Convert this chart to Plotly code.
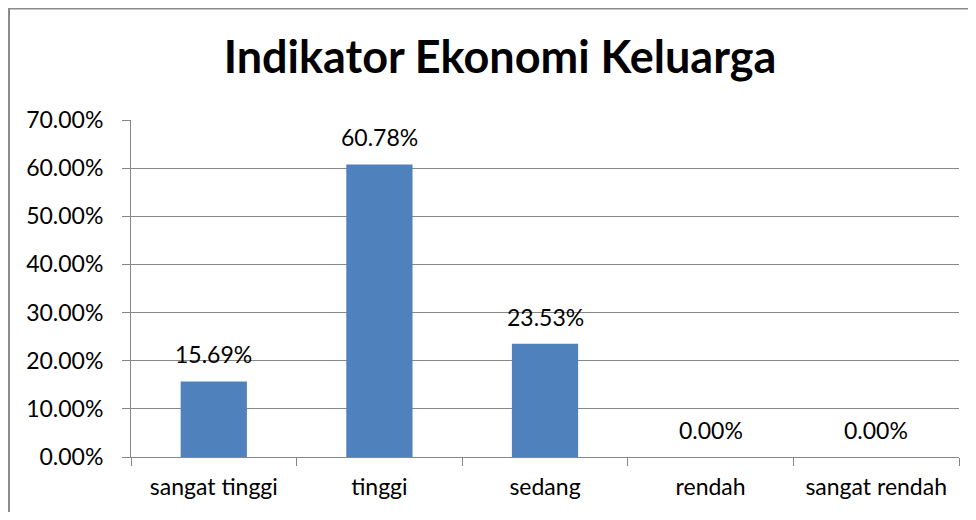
import plotly.graph_objects as go

categories = ["sangat tinggi", "tinggi", "sedang", "rendah", "sangat rendah"]
values = [0.1569, 0.6078, 0.2353, 0.0, 0.0]
y_ticks = [0, 0.1, 0.2, 0.3, 0.4, 0.5, 0.6, 0.7]
title_text = "Indikator Ekonomi Keluarga"

# page body has an 8px margin, so the figure sits at (8, 8) in the window
W, H = 960, 504
ML, MR, MT, MB = 123, 9, 112, 55
FONT = "Lato"
FS = 23
GRID = "#878787"
BAR = "#4F81BD"

fig = go.Figure()
fig.add_trace(go.Bar(
    x=categories, y=values,
    marker=dict(color=BAR, line=dict(width=0)),
    hoverinfo="skip",
))

for c, v in zip(categories, values):
    fig.add_annotation(
        x=c, y=v, xref="x", yref="y",
        text=f"{v*100:.2f}%", showarrow=False,
        yanchor="bottom", yshift=11,
        font=dict(family=FONT, size=FS, color="#000000"),
    )

pw = W - ML - MR
ph = H - MT - MB
fig.add_shape(
    type="rect", xref="paper", yref="paper",
    x0=(1 - ML) / pw, x1=(W + 20 - ML) / pw,
    y0=-(H + 20 - MT - ph) / ph, y1=1 + (MT - 0.5) / ph,
    line=dict(color="#8c8c8c", width=2), fillcolor="rgba(0,0,0,0)",
    layer="below",
)

fig.update_layout(
    width=W, height=H,
    margin=dict(l=ML, r=MR, t=MT, b=MB, pad=0),
    paper_bgcolor="white", plot_bgcolor="white",
    bargap=0.6,
    showlegend=False,
    title=dict(
        text=f"<b>{title_text}</b>", x=492 / W, xref="container", xanchor="center",
        y=1 - 49 / H, yref="container", yanchor="middle",
        font=dict(family=FONT, size=45, color="#000000"),
    ),
    font=dict(family=FONT, size=FS, color="#000000"),
)
fig.update_xaxes(
    showline=True, linecolor=GRID, linewidth=1,
    ticks="outside", ticklen=8, tickcolor=GRID, tickwidth=1,
    tickson="boundaries", showgrid=False,
    ticklabelstandoff=9,
    tickfont=dict(family=FONT, size=FS, color="#000000"),
    fixedrange=True,
)
fig.update_yaxes(
    range=[0, 0.7], tickvals=y_ticks, tickformat=".2%",
    showline=True, linecolor=GRID, linewidth=1,
    ticks="outside", ticklen=8, tickcolor=GRID, tickwidth=1,
    showgrid=True, gridcolor=GRID, gridwidth=1,
    zeroline=False,
    ticklabelstandoff=14,
    tickfont=dict(family=FONT, size=FS, color="#000000"),
    fixedrange=True,
)

fig.write_html("out.html")
